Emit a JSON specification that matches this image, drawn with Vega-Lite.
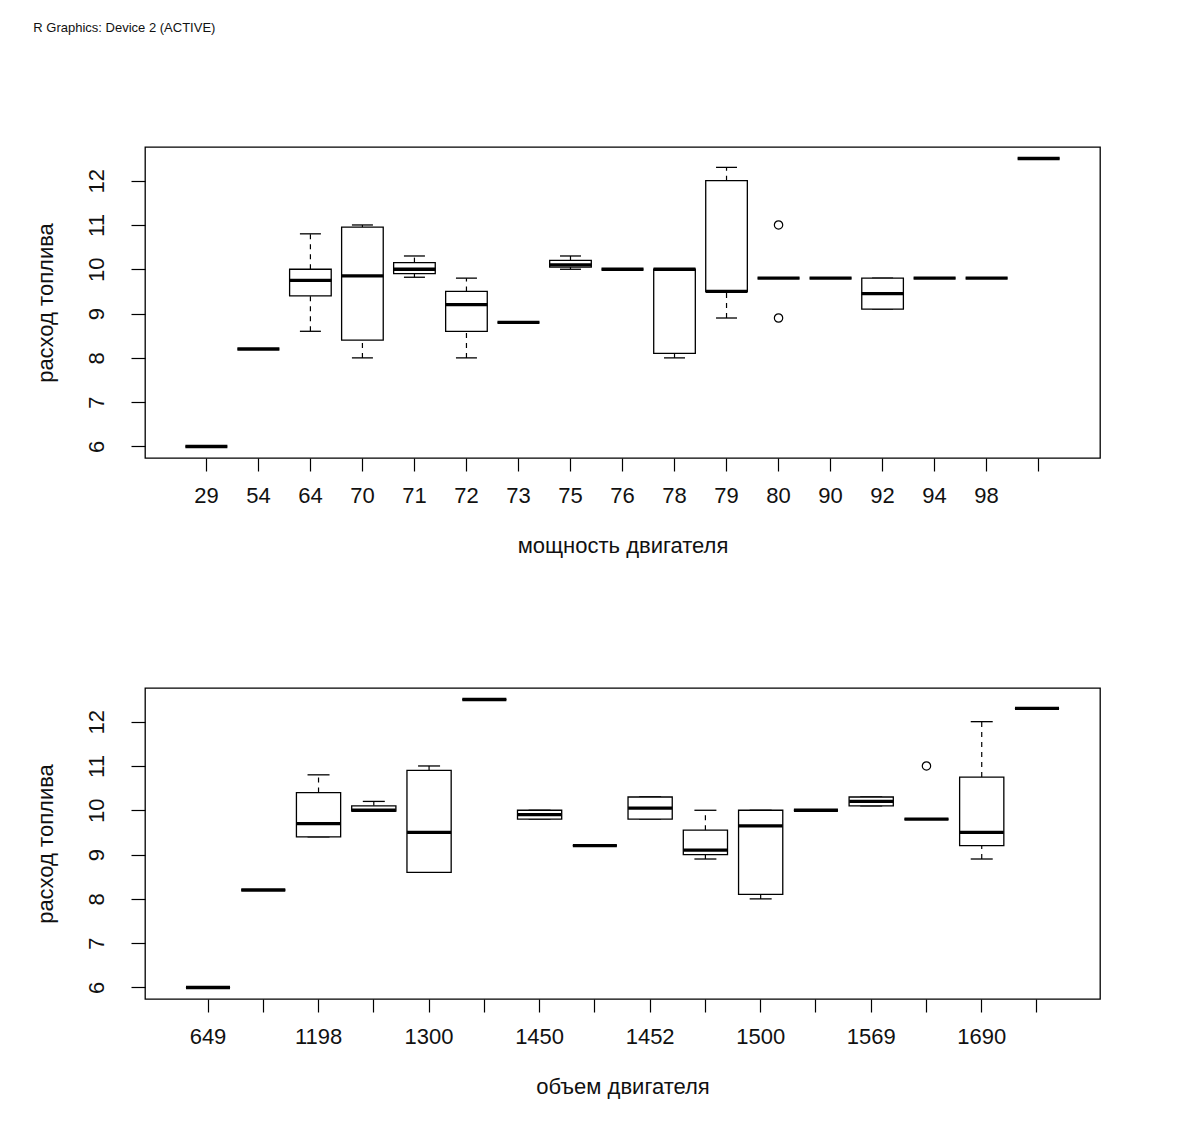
{
  "$schema": "https://vega.github.io/schema/vega-lite/v6.json",
  "background": "white",
  "padding": {"left": 33, "top": 22, "right": 10, "bottom": 10},
  "title": {"text": "R Graphics: Device 2 (ACTIVE)", "anchor": "start", "frame": "bounds", "fontSize": 13, "font": "Liberation Sans", "fontWeight": "normal", "color": "#111", "offset": 111},
  "spacing": 130,
  "datasets": {
    "power": [
      {"hp": "29", "lower": 6.0, "q1": 6.0, "median": 6.0, "q3": 6.0, "upper": 6.0},
      {"hp": "54", "lower": 8.2, "q1": 8.2, "median": 8.2, "q3": 8.2, "upper": 8.2},
      {"hp": "64", "lower": 8.6, "q1": 9.4, "median": 9.75, "q3": 10.0, "upper": 10.8},
      {"hp": "70", "lower": 8.0, "q1": 8.4, "median": 9.85, "q3": 10.95, "upper": 11.0},
      {"hp": "71", "lower": 9.82, "q1": 9.9, "median": 10.0, "q3": 10.15, "upper": 10.3},
      {"hp": "72", "lower": 8.0, "q1": 8.6, "median": 9.2, "q3": 9.5, "upper": 9.8},
      {"hp": "73", "lower": 8.8, "q1": 8.8, "median": 8.8, "q3": 8.8, "upper": 8.8},
      {"hp": "75", "lower": 10.0, "q1": 10.05, "median": 10.1, "q3": 10.2, "upper": 10.3},
      {"hp": "76", "lower": 10.0, "q1": 10.0, "median": 10.0, "q3": 10.0, "upper": 10.0},
      {"hp": "78", "lower": 8.0, "q1": 8.1, "median": 10.0, "q3": 10.0, "upper": 10.0},
      {"hp": "79", "lower": 8.9, "q1": 9.5, "median": 9.5, "q3": 12.0, "upper": 12.3},
      {"hp": "80", "lower": 9.8, "q1": 9.8, "median": 9.8, "q3": 9.8, "upper": 9.8},
      {"hp": "90", "lower": 9.8, "q1": 9.8, "median": 9.8, "q3": 9.8, "upper": 9.8},
      {"hp": "92", "lower": 9.1, "q1": 9.1, "median": 9.45, "q3": 9.8, "upper": 9.8},
      {"hp": "94", "lower": 9.8, "q1": 9.8, "median": 9.8, "q3": 9.8, "upper": 9.8},
      {"hp": "98", "lower": 9.8, "q1": 9.8, "median": 9.8, "q3": 9.8, "upper": 9.8},
      {"hp": "100", "lower": 12.5, "q1": 12.5, "median": 12.5, "q3": 12.5, "upper": 12.5}
    ],
    "powerOut": [
      {"hp": "80", "value": 11.0},
      {"hp": "80", "value": 8.9}
    ],
    "volume": [
      {"cc": "649", "lower": 6.0, "q1": 6.0, "median": 6.0, "q3": 6.0, "upper": 6.0},
      {"cc": "1091", "lower": 8.2, "q1": 8.2, "median": 8.2, "q3": 8.2, "upper": 8.2},
      {"cc": "1198", "lower": 9.4, "q1": 9.4, "median": 9.7, "q3": 10.4, "upper": 10.8},
      {"cc": "1290", "lower": 9.98, "q1": 9.98, "median": 10.0, "q3": 10.1, "upper": 10.2},
      {"cc": "1300", "lower": 8.6, "q1": 8.6, "median": 9.5, "q3": 10.9, "upper": 11.0},
      {"cc": "1400", "lower": 12.5, "q1": 12.5, "median": 12.5, "q3": 12.5, "upper": 12.5},
      {"cc": "1450", "lower": 9.8, "q1": 9.8, "median": 9.9, "q3": 10.0, "upper": 10.0},
      {"cc": "1451", "lower": 9.2, "q1": 9.2, "median": 9.2, "q3": 9.2, "upper": 9.2},
      {"cc": "1452", "lower": 9.8, "q1": 9.8, "median": 10.05, "q3": 10.3, "upper": 10.3},
      {"cc": "1499", "lower": 8.9, "q1": 9.0, "median": 9.1, "q3": 9.55, "upper": 10.0},
      {"cc": "1500", "lower": 8.0, "q1": 8.1, "median": 9.65, "q3": 10.0, "upper": 10.0},
      {"cc": "1568", "lower": 10.0, "q1": 10.0, "median": 10.0, "q3": 10.0, "upper": 10.0},
      {"cc": "1569", "lower": 10.1, "q1": 10.1, "median": 10.2, "q3": 10.3, "upper": 10.3},
      {"cc": "1600", "lower": 9.8, "q1": 9.8, "median": 9.8, "q3": 9.8, "upper": 9.8},
      {"cc": "1690", "lower": 8.9, "q1": 9.2, "median": 9.5, "q3": 10.75, "upper": 12.0},
      {"cc": "1774", "lower": 12.3, "q1": 12.3, "median": 12.3, "q3": 12.3, "upper": 12.3}
    ],
    "volumeOut": [
      {"cc": "1600", "value": 11.0}
    ]
  },
  "vconcat": [
    {
      "width": 955,
      "height": 311,
      "data": {"name": "power"},
      "encoding": {
        "x": {
          "field": "hp", "type": "nominal", "title": "мощность двигателя",
          "scale": {"domain": ["29","54","64","70","71","72","73","75","76","78","79","80","90","92","94","98","100"], "paddingInner": 0, "paddingOuter": 0.68},
          "axis": {"labelExpr": "datum.value == '100' ? '' : datum.value"}
        }
      },
      "layer": [
        {"mark": {"type": "rule", "strokeDash": [5, 5], "color": "black", "strokeWidth": 1.2},
         "encoding": {"y": {"field": "q3", "type": "quantitative", "title": "расход топлива", "scale": {"domain": [5.74, 12.76], "nice": false, "zero": false}}, "y2": {"field": "upper"}}},
        {"mark": {"type": "rule", "strokeDash": [5, 5], "color": "black", "strokeWidth": 1.2},
         "encoding": {"y": {"field": "lower", "type": "quantitative"}, "y2": {"field": "q1"}}},
        {"mark": {"type": "tick", "color": "black", "size": 21, "thickness": 1.3, "opacity": 1},
         "encoding": {"y": {"field": "upper", "type": "quantitative"}}},
        {"mark": {"type": "tick", "color": "black", "size": 21, "thickness": 1.3, "opacity": 1},
         "encoding": {"y": {"field": "lower", "type": "quantitative"}}},
        {"mark": {"type": "bar", "fill": "white", "stroke": "black", "strokeWidth": 1.3, "width": {"band": 0.8}},
         "encoding": {"y": {"field": "q1", "type": "quantitative"}, "y2": {"field": "q3"}}},
        {"mark": {"type": "tick", "color": "black", "size": 42, "thickness": 3.3, "opacity": 1},
         "encoding": {"y": {"field": "median", "type": "quantitative"}}},
        {"data": {"name": "powerOut"},
         "mark": {"type": "point", "shape": "circle", "filled": false, "color": "black", "size": 70, "strokeWidth": 1.2, "opacity": 1},
         "encoding": {"y": {"field": "value", "type": "quantitative"}}}
      ]
    },
    {
      "width": 955,
      "height": 311,
      "data": {"name": "volume"},
      "encoding": {
        "x": {
          "field": "cc", "type": "nominal", "title": "объем двигателя",
          "scale": {"domain": ["649","1091","1198","1290","1300","1400","1450","1451","1452","1499","1500","1568","1569","1600","1690","1774"], "paddingInner": 0, "paddingOuter": 0.64},
          "axis": {"labelExpr": "indexof(['649','1198','1300','1450','1452','1500','1569','1690'], datum.value) >= 0 ? datum.value : ''"}
        }
      },
      "layer": [
        {"mark": {"type": "rule", "strokeDash": [5, 5], "color": "black", "strokeWidth": 1.2},
         "encoding": {"y": {"field": "q3", "type": "quantitative", "title": "расход топлива", "scale": {"domain": [5.74, 12.76], "nice": false, "zero": false}}, "y2": {"field": "upper"}}},
        {"mark": {"type": "rule", "strokeDash": [5, 5], "color": "black", "strokeWidth": 1.2},
         "encoding": {"y": {"field": "lower", "type": "quantitative"}, "y2": {"field": "q1"}}},
        {"mark": {"type": "tick", "color": "black", "size": 22, "thickness": 1.3, "opacity": 1},
         "encoding": {"y": {"field": "upper", "type": "quantitative"}}},
        {"mark": {"type": "tick", "color": "black", "size": 22, "thickness": 1.3, "opacity": 1},
         "encoding": {"y": {"field": "lower", "type": "quantitative"}}},
        {"mark": {"type": "bar", "fill": "white", "stroke": "black", "strokeWidth": 1.3, "width": {"band": 0.8}},
         "encoding": {"y": {"field": "q1", "type": "quantitative"}, "y2": {"field": "q3"}}},
        {"mark": {"type": "tick", "color": "black", "size": 44, "thickness": 3.3, "opacity": 1},
         "encoding": {"y": {"field": "median", "type": "quantitative"}}},
        {"data": {"name": "volumeOut"},
         "mark": {"type": "point", "shape": "circle", "filled": false, "color": "black", "size": 70, "strokeWidth": 1.2, "opacity": 1},
         "encoding": {"y": {"field": "value", "type": "quantitative"}}}
      ]
    }
  ],
  "config": {
    "view": {"stroke": "black", "strokeWidth": 1.3},
    "axis": {"domain": false, "grid": false, "tickColor": "black", "tickWidth": 1.2, "labelFont": "Liberation Sans", "labelFontSize": 22, "labelColor": "#111", "titleFont": "Liberation Sans", "titleFontSize": 22, "titleFontWeight": "normal", "titleColor": "#111", "labelOverlap": false},
    "axisX": {"tickSize": 13, "labelPadding": 14, "labelAngle": 0, "titlePadding": 29},
    "axisY": {"tickSize": 14, "labelPadding": 28, "labelAngle": -90, "labelAlign": "center", "labelBaseline": "alphabetic", "values": [6, 7, 8, 9, 10, 11, 12], "titlePadding": 28}
  }
}
